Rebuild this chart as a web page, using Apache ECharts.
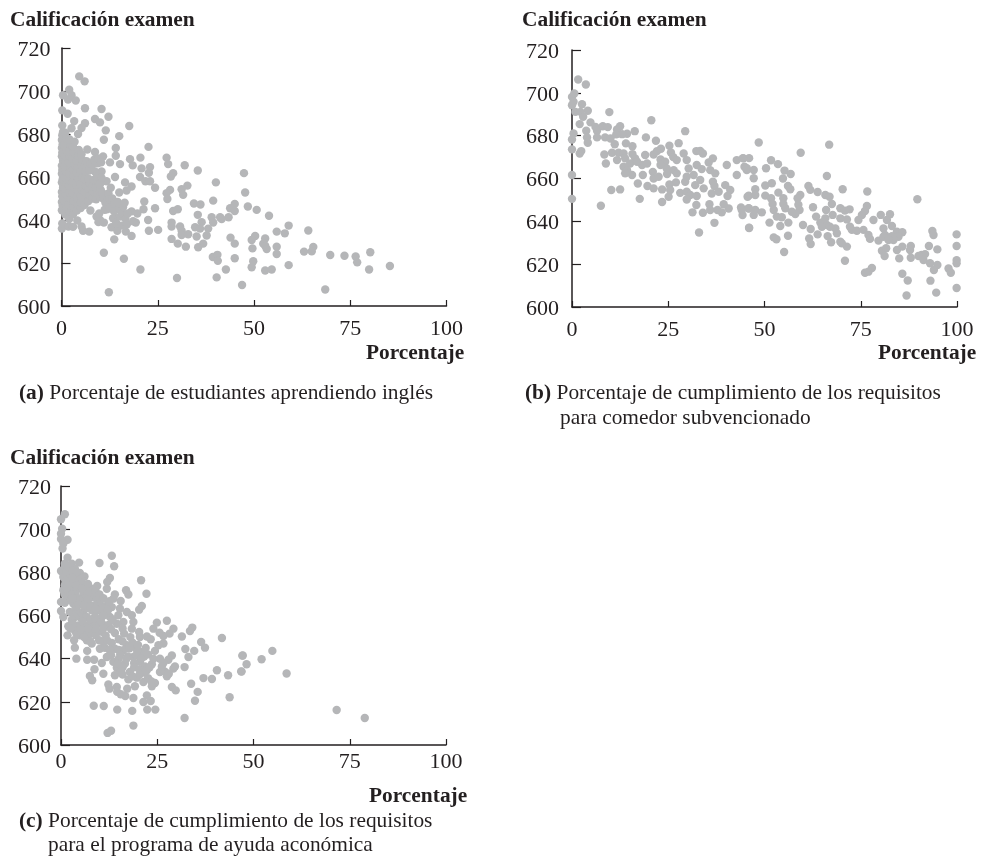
<!DOCTYPE html>
<html><head><meta charset="utf-8">
<script src="https://cdn.jsdelivr.net/npm/echarts@6/dist/echarts.min.js"></script>
<style>html,body{margin:0;padding:0;background:#fff}#c{width:981px;height:858px}</style>
</head><body><div id="c"></div>
<script>
const xTicks = [0, 25, 50, 75, 100];
const yTicks = [600, 620, 640, 660, 680, 700, 720];
const yTitle = 'Calificación examen';
const xTitle = 'Porcentaje';

const pointsA = [
[4.6,706.8],[6,704.5],[2,700.6],[.4,698],[2.6,698],[1.7,696],[3.7,695.6],[6.1,692],[10.4,691.6],[.2,691],[1.6,689.4],[12.2,688],[8.7,687],[10,685.4],[3.3,686],[6.1,685],[.2,684],[17.6,683.7],[5.2,682.8],[11.5,681.7],[2.6,682.7],[4.3,680],[15,679],[11,677.3],[14.1,673.5],[22.6,674],[6.7,672.8],[27.3,669],[20.5,669],[14.1,669.9],[17.8,668.3],[27.7,666],[10.8,669.6],[8.7,671.6],[32,665.5],[18.5,665.4],[15.2,666],[12.6,666.8],[20.8,664],[23,664.6],[22.7,662],[35.4,663],[47.4,661.8],[29,661.8],[28.4,660.2],[13.9,660],[20.4,660],[10.4,662.6],[8.7,662.6],[21.8,658],[23,658],[40.1,657.5],[16.5,657.5],[11.7,658],[32.7,656],[24.3,655],[18.2,655.6],[31.2,654.3],[28.2,654],[27.3,652.5],[16.9,653.7],[47.7,652.8],[31.6,651.7],[15,652.8],[27.5,649.8],[39.4,649],[21.5,648.6],[34.4,647.7],[36.1,647.2],[45,647.5],[13,647.8],[48.4,646.3],[43.8,645.5],[24.3,645.5],[21.3,645],[50.7,644.7],[45,644.2],[30.2,645],[29,644.2],[35.4,642.4],[53.9,642],[39,641.3],[41.2,641.3],[43.4,641.3],[7.5,644.4],[19.7,643],[18.2,644],[9.1,641.6],[22.5,640],[13.4,640.8],[41.6,640.4],[36.4,639],[39.4,638.8],[28.6,638.8],[28.6,637],[19.3,638.8],[59,637.4],[30.8,637],[34.7,636.6],[36,636],[38.1,636],[13,636.6],[5.2,637],[7.2,634.6],[5.6,635],[25.1,635.4],[22.7,635],[14.5,635],[16.7,634.6],[18.2,632.6],[55.9,634.6],[58,633.8],[31.2,635],[31.2,633],[32.9,633.4],[35.1,632.3],[37.7,632.8],[36.8,629],[50.3,632.6],[49.4,630.7],[43.9,631.8],[28.6,631.2],[13.7,631],[30.2,629],[45,629],[52.9,631.4],[52.4,629],[52.9,628],[53.3,626.5],[32.3,627.6],[35.5,627.3],[55.9,627.6],[49.6,626.8],[55.9,624.2],[11,624.8],[39.3,622.8],[40.5,623.8],[40.6,621],[45,622.2],[16.2,622],[49.8,620.8],[59,619],[49.4,618],[52.9,616.5],[54.6,617],[42.7,617],[20.5,617],[30,613],[40.3,613.3],[46.9,609.8],[12.3,606.4],
[64.1,635.1],[65.4,627.5],[65,625.4],[63,625.3],[69.8,623.7],[73.5,623.4],[76.4,623],[76.8,620.3],[80.2,625],[79.9,617],[85.3,618.6],[68.5,607.7],
[.1,636],[.2,638.4],[1.8,637],[3,636.8],[.1,644.5],[.3,646.6],[.1,648.4],[.2,651],[.1,653],[.4,655],[.1,657.4],[.3,659],[.1,661.5],[.2,663.3],[.1,665.2],[.4,667.4],[.1,669.6],[.2,671.3],[.1,673.5],[.3,675.2],[.1,677.2],[.2,679.4],[.4,681],
[1,642.5],[1.2,645.5],[.9,648.6],[1.1,652],[.8,654.6],[1.3,657],[.9,660],[1.2,662.4],[.8,664.8],[1.1,667],[.9,670],[1.3,672.6],[.8,675.4],[1.2,678],[1,680.6],
[2,640.4],[2.2,644],[1.9,647],[2.3,650],[2,653],[1.8,656],[2.2,658.6],[2,661.6],[2.4,664.4],[1.9,666.8],[2.2,669.4],[2,672],[2.4,674.8],[2,677.6],
[3,642.6],[3.2,646],[3.1,649],[2.9,652.4],[3.3,655.2],[3,658],[3.2,660.6],[3,663.6],[3.3,666],[2.9,668.6],[3.2,671.4],[3,674],[3.4,676.4],
[4.1,639.8],[4,644.4],[4.3,647],[4,650.6],[4.2,653.6],[3.9,656.6],[4.3,659.2],[4,662],[4.2,665],[4,667.6],[4.3,670],[4.5,672.6],[5,645.6],[5.1,648],[5,651.2],[5.3,654],[5,657],[5.4,659.8],[5,663],[5.2,665.6],[5.4,668],[5.2,670.6],
[6,647],[6.2,650],[6,653],[6.4,656],[6.1,659],[6.3,662.4],[6,665.4],[6.5,667.4],[7,648.8],[7.2,651.6],[7.1,654.4],[7.4,657],[7,659.2],[7.2,663],[7.5,666.2],[8,650],[8.2,653],[8,655.6],[8.4,658.6],[8,665.6],[8.5,668],[9,649.6],[9.3,652],[9,655],[9.4,658.4],[9.2,660.4],[9.4,666.4],[9.5,668.6],[10,651],[10.2,654],[10,656.6],[10.4,659.6],[10.3,666.8],[10,640],[9.6,639],[9.8,643],[10.8,650],[10.6,652.6],[11,638.8],[11.2,644.8],[11.4,648],[11.8,645],[12.2,652.4],[12.4,649.6],[12.6,645.6],[12.8,655],[13.2,650],[13.6,644.2],[13.8,647.6],[14,641],[14.2,638.6],[14.6,648.4],[15,645],[15.2,641.6],[15.6,637.4],[15.8,643],[16,646],[16.4,648],[16.6,640.6],[17,638],[17.2,643],[18.6,639.4]
];

const pointsB = [
[1.6,706.2],[3.6,703.9],[.6,699.7],[0,698.1],[.4,695.8],[0,694.2],[2.6,694.7],[4.1,691.6],[.9,691.1],[2.2,691.1],[9.7,691],[2.9,688.8],[4.8,686.2],[2,685.4],[20.6,687.2],[6.1,684.1],[8,684.4],[9.3,684],[12.5,684.4],[11.7,682.9],[16.3,682.1],[29.4,682.1],[6.5,682.3],[3.7,682.3],[.4,681],[14.3,680.9],[13,680.7],[11.5,680.6],[19.2,679.2],[6.5,679.2],[8.6,679.2],[0,678.2],[3.9,679.2],[10,678.7],[4.1,676.7],[21.8,677.6],[14,676.4],[27.7,676.5],[15.7,675.1],[11.1,676],[25.3,675.3],[0,673.6],[23.1,673.9],[2.4,672.8],[2,671.7],[22.1,672.8],[32.3,672.8],[33.3,672.9],[34,671.7],[25.7,672.1],[8.4,671.2],[10.4,672],[12.1,672],[13.4,671.7],[19,671],[21.2,671.2],[29,671.7],[36.6,669.4],[15.7,671.4],[26.3,670],[27.2,668.6],[11.7,668.6],[13.8,669.4],[16.4,669.4],[23,668.9],[24.2,667.8],[29.8,668.6],[35.5,667.5],[8.8,667],[40.2,666.3],[42.8,668.6],[44.5,669.4],[18.2,666.3],[19.5,667],[15.1,667],[16.9,667.8],[23,666.3],[32.4,666.3],[13.4,665.5],[14.3,663.9],[33.7,664.4],[35.9,663.9],[24.6,664.7],[26.4,663.9],[30.3,664.7],[37.2,662.4],[21,663.1],[15.6,661.6],[13.8,662.4],[0,661.6],[18.4,661.6],[21.2,660],[22.5,660.8],[24.7,662.1],[27.2,662.4],[42.8,661.6],[45.4,663.9],[44.8,665.5],[29.8,660.8],[31.6,661.6],[29.4,658.5],[33.3,659.3],[36.6,658.5],[17.1,657.7],[27,658.2],[25.3,657.2],[32,656.9],[39.8,656.9],[19.6,656.5],[21.2,655.4],[37,656.5],[34.2,655.4],[23.4,654.9],[10.2,654.6],[12.5,654.9],[41.1,654.6],[25.5,654.6],[38.1,653.8],[36.3,653],[28.1,653.3],[29.8,653.8],[25.1,651.5],[30.7,652.3],[32.4,651.8],[40.4,651.8],[0,650.5],[17.6,650.5],[29.8,650.2],[23.4,649],[32.3,647.6],[35.7,648],[39.4,648],[7.5,647.3],[37.8,645.3],[40.7,646],[35.9,645.3],[43.9,646.5],[45.6,651.5],[45.9,646],[31.3,644.2],[34,644],[38.9,644.2],[44.3,642.9],[37,639.3],[46,636.9],[33,634.8],
[48.5,676.8],[66.8,675.8],[59.4,672],[46,669.5],[44.4,669.5],[51.7,668.5],[53.5,666.7],[50.4,664.8],[45.4,664.8],[47.2,664],[55.2,663.7],[56.8,662.1],[54.8,660],[66.2,661.2],[47.2,660.1],[51.9,657.8],[50.2,656.7],[61.4,656.5],[56.1,656.5],[56.7,655],[70.3,655],[76.7,653.9],[61.9,654.7],[63.8,653.7],[47.6,655],[53.6,653.4],[45.9,652],[47.6,652.3],[50.2,652],[59.3,652.3],[65.8,652.3],[66.9,651.5],[51.7,650.8],[58.6,650.8],[54.9,650.8],[89.7,650.3],[52.1,648.1],[54.9,648.1],[58.8,647.7],[67.5,648.1],[76.6,647.2],[62.6,646.6],[55.4,646.1],[69.7,646.1],[72.1,645.6],[70.9,645],[76.1,644.8],[57.1,644.5],[66,645.3],[45.9,646.1],[44.1,645.3],[47.6,645.3],[52.4,645.3],[59.1,645.3],[49.3,644.2],[47.2,643],[58,643.4],[67.7,643],[75.3,643],[82.6,643.3],[80.2,643],[53.2,642.2],[54.5,641.9],[63.4,642.2],[71.4,640.9],[69.7,641.4],[74.4,640.6],[78.3,640.6],[81.8,640.6],[51.3,639.4],[56.2,639.4],[64.5,639.4],[66.2,638.3],[60,638.3],[54.1,637.8],[72.2,637.5],[83.1,637.8],[46,637],[68.4,636.7],[62,636.4],[72.7,636],[74,635.6],[75.7,636],[80.9,636.7],[84.4,635.2],[85.8,634.9],[93.6,635.5],[99.9,633.9],[93.9,633.6],[63.8,633.9],[66.4,633.1],[68.8,634.4],[56.1,633.3],[52.4,632.5],[53.1,631.6],[61.6,632],[77,633.6],[81.3,633.6],[83.1,633.1],[84.8,632.8],[77.4,631.8],[79.6,631],[69.7,630.5],[67.3,630.2],[62,629.4],[71.4,628.2],[70.1,629.7],[88,628.5],[92.7,628.5],[99.9,628.5],[85.8,628.2],[84.4,626.6],[94.9,626.9],[80.5,626.3],[81.6,627.4],[87.8,626.6],[55.1,625.7],[81.2,623.8],[90.8,624.3],[91.7,624.7],[90,623.8],[85,622.7],[88,623],[91.3,621.9],[99.9,621.9],[99.9,620.4],[70.9,621.6],[93,620.4],[94.9,619.6],[94,617.3],[77.9,618.2],[77,616.5],[76.1,616],[97.8,618],[98.4,616],[85.8,615.5],[87.2,612.4],[93.1,612.3],[99.9,608.9],[94.6,606.7],[86.9,605.4],
[80.9,632.8],[83.5,631.3],[82.2,631.3],[65.8,641.4],[67,637.5],[64.9,637.5]
];

const pointsC = [
[54.9,643.6],[52.1,639.7],[47.2,641.5],[48.2,637.4],[46.9,634],[58.6,633.1],[71.6,616.2],[78.9,612.5],
[1,706.9],[0,704.6],[.3,700.2],[0,697.9],[1.7,695.1],[0,695.4],[.6,693.3],[.4,691],[13.2,687.7],[1.7,686.8],[10,684.3],[4.7,684.5],[13.8,682.8],[2.8,684],[0,680.6],[1,682.5],[3.6,681.7],[4.9,679.7],[6.1,678.1],[12.7,677.4],[20.8,676.3],[12,675.5],[.6,677.8],[2.3,679.4],[1.5,680.2],[3.6,678.6],[2.3,677.1],[11.9,672.4],[9.4,673.7],[8,672.4],[6.2,674],[16.9,671.7],[22.2,670.1],[17.5,669.7],[14,669.8],[.6,671.7],[2.8,673.2],[4.5,672.4],[1.5,668.6],[3.6,670.1],[5.8,670.1],[8.2,668.6],[6.8,670.9],[0,666.3],[1,665.9],[13.6,667.8],[15.5,666.7],[21,664.4],[20.3,662.7],[0,662.1],[15.3,663.2],[5.4,665.5],[7.1,665.5],[9.3,667.8],[10.1,665.5],[3.2,665.5],[11.9,664.7],[13.2,663.9],[.6,659.3],[17.1,661.6],[18.4,660.1],[2.3,661.6],[4.1,662.4],[5.8,661.6],[8,662.4],[9.7,662.4],[11.4,661.6],[14.9,660.1],[4.9,659.3],[6.7,659.3],[8.8,659.3],[10.6,659.3],[12.7,659.3],[3.6,659.3],[18.8,657],[24.9,656.7],[27.5,657.6],[16.2,657],[14.5,656.2],[1.9,655],[4.5,655.4],[7.5,656.2],[9.7,656.2],[11.4,655.4],[24,653.9],[34.1,654.4],[33.5,652.8],[29.2,653.9],[18.4,653.9],[25.6,652],[28.2,651.6],[20.3,652.4],[3.6,653.1],[5.8,652.8],[8.4,653.1],[10.6,652.4],[14,651.9],[16.4,651.6],[1.7,650.8],[4.9,650.8],[31.4,650.3],[26.6,650.5],[41.8,649.6],[20.5,650],[22.3,650.3],[23.3,649],[3.4,648.5],[6.7,648.5],[36.4,647.7],[9.9,648.5],[26.6,647],[25.3,646.2],[3.6,645.1],[8,647],[11,647.7],[13.2,647.3],[17.1,646.2],[37.4,645.1],[19.2,645.4],[32.3,644.5],[24.4,643.6],[34.6,643.6],[6.8,643.6],[10.1,644.6],[14,644.6],[21,643.1],[16.2,643.9],[33.1,640.8],[47.1,641.4],[4,640],[6.8,639.5],[8.6,639.5],[11.9,640.8],[18.8,640.8],[28.8,641.5],[25.7,640],[27.9,639.5],[10.6,638],[13.6,638.5],[16.6,637.7],[20.5,638.5],[23.6,637.4],[26.6,638],[29.6,636.4],[32.1,636.1],[8.7,635.1],[40.5,634.6],[14.5,635.8],[17.9,633.8],[22.3,634.6],[25.7,633.8],[29.2,635.4],[11,633],[46.8,634.1],[43.4,632.3],[14,632.3],[27.5,631.8],[7.5,632],[8.1,630],[37,631],[39.2,630.6],[17.5,630.4],[19.7,631.2],[21.4,629.2],[33.8,628.4],[24.4,628.7],[12.3,628],[28.8,626.9],[29.8,625.3],[12.6,626.1],[14.5,626.9],[19.2,627.2],[23.6,627.2],[17.2,626.1],[35.5,624.6],[14.6,624.6],[15.5,623.5],[16.7,622.7],[22.3,623],[18.8,621.8],[43.8,622.1],[21.4,619.9],[23.3,620.4],[34.8,620.5],[8.5,618.2],[11.1,618.1],[14.6,616.4],[18.5,615.8],[22.4,616.4],[24.5,616.4],[32.1,612.5],[18.8,609],[13,606.6],[12.1,605.6],
[1.2,676],[2.8,675],[4,676.4],[5.2,677],[1,674],[2,672],[3.4,676],[.9,670],[2.4,670],[4.4,668],[6,668],[2.6,667],[5,667],[7,667.4],[3.8,664],[6.4,663.4],[8.6,664.6],[10.8,663.4],[12.2,662.4],[2.8,658],[5.6,657],[7.6,658],[9,657.6],[10.4,657],[12.4,655.6],[6.4,654.4],[8.8,655],[4,651.6],[7.2,651],[9,650.8],[11.6,650.6],[7.6,648],[11.4,645],[12.6,644],[15,644],[17.8,644.8],[19.8,643.6],[21.6,641],[15.4,642],[17.4,641],[19.6,641.6],[13,641.6],[15,640],[17,640],[19,638],[21.8,636.4],[14.6,637.6],[16,636],[19,636],[20.4,635],[21.6,633.6],[23,636],[15.6,634.2],[16,632.6],[18.6,631.8],[20.4,632.6],[22.6,631],[27,634],[26.2,636.4],[28,633],[23.4,629.6],
[1,684],[2,682.4],[3,680.6],[4,680],[1.4,672.6],[2,675],[3,677.4],[4.6,676],[5.6,675],[7,674.6],[4,674],[5.5,672.6],[7.4,671],[9,671],[10,669.8],[3,668],[4.6,665],[6,664.6],[7.6,664],[9,663],[11,668],[12.6,666.6],[11,660],[13.4,658],[9,654],[7,654],[5,653.6],[3,656.4],[2.4,654],[6,650],[11,654],[13,653.6],[16,654],[18,650],[15,649],[12,648.4],[16,648],[18.6,647.4],[20,646.4],[22,645],[22.6,642],[24,640],[20.8,640]
];

const captionA = ['{b|(a)} Porcentaje de estudiantes aprendiendo inglés'];
const captionB = ['{b|(b)} Porcentaje de cumplimiento de los requisitos', 'para comedor subvencionado'];
const captionC = ['{b|(c)} Porcentaje de cumplimiento de los requisitos', 'para el programa de ayuda aconómica'];

const ink = '#231f20';
const dot = '#b5b6b8';
const font = '"Liberation Serif","Times New Roman",serif';
const panels = [
  {points: pointsA, left: 61.5, top: 48, w: 385, h: 258, mx: 12, my: 11},
  {points: pointsB, left: 572, top: 50, w: 385, h: 257, mx: 12, my: 13},
  {points: pointsC, left: 61, top: 486, w: 385, h: 259, mx: 6, my: 10}
];
const textBold = 21.4, textReg = 21.4;
const option = {
  animation: false,
  backgroundColor: '#fff',
  textStyle: {fontFamily: font},
  grid: panels.map(p => ({left: p.left, top: p.top, width: p.w, height: p.h})),
  xAxis: panels.map((p, i) => ({
    type: 'value', gridIndex: i, min: xTicks[0], max: xTicks[4], interval: 25, splitLine: {show: false},
    axisLine: {onZero: false, lineStyle: {color: ink, width: 1.5}},
    axisTick: {inside: true, length: 6, lineStyle: {color: ink, width: 1.2}},
    axisLabel: {color: ink, fontFamily: font, fontSize: 22, margin: p.mx}
  })),
  yAxis: panels.map((p, i) => ({
    type: 'value', gridIndex: i, min: yTicks[0], max: yTicks[6], interval: 20, splitLine: {show: false},
    axisLine: {onZero: false, lineStyle: {color: ink, width: 1.5}},
    axisTick: {inside: true, length: 9, lineStyle: {color: ink, width: 1.2}},
    axisLabel: {color: ink, margin: p.my, formatter: '{v|{value}}',
      rich: {v: {color: ink, fontFamily: font, fontSize: 22, padding: [4, 0, 0, 0]}}}
  })),
  series: panels.map((p, i) => ({
    type: 'scatter', xAxisIndex: i, yAxisIndex: i, data: p.points, symbolSize: 8.4,
    itemStyle: {color: dot, opacity: 1}, silent: true, clip: false
  })),
  graphic: [
    [yTitle, 10, 10], [yTitle, 522, 10], [yTitle, 10, 448],
    [xTitle, 366, 343], [xTitle, 878, 343], [xTitle, 369, 786]
  ].map(t => ({type: 'text', left: t[1], top: t[2], style: {text: t[0], fill: ink, font: 'bold ' + textBold + 'px ' + font}})).concat(
    [[captionA[0], 19, 383], [captionB[0], 525, 383], [captionB[1], 560, 408], [captionC[0], 19, 811], [captionC[1], 48, 835]].map(t => ({
      type: 'text', left: t[1], top: t[2],
      style: {text: t[0], fill: ink, font: textReg + 'px ' + font,
        rich: {b: {fontWeight: 'bold', fontFamily: font, fontSize: textReg, fill: ink}}}
    })))
};
const chart = echarts.init(document.getElementById('c'), null, {renderer: 'canvas'});
chart.setOption(option);
</script></body></html>
